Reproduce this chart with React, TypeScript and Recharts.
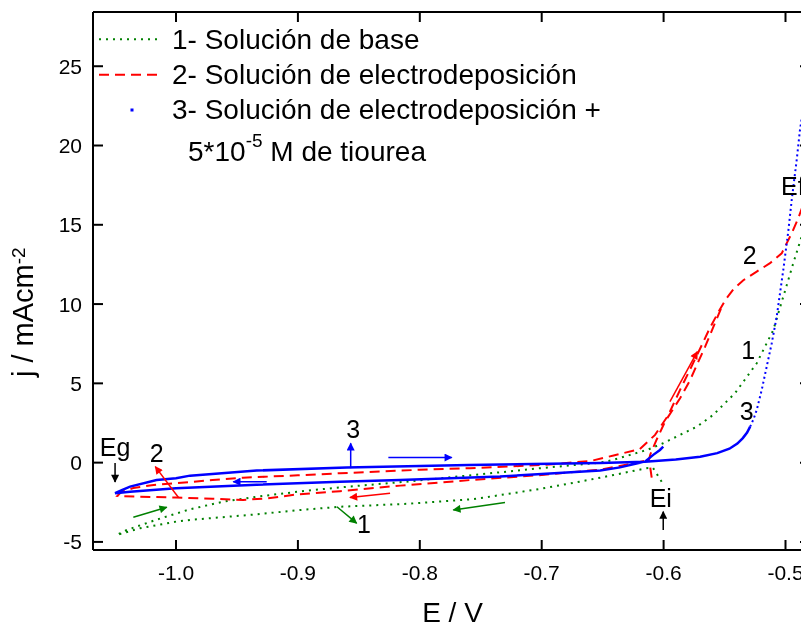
import React from 'react';
import { LineChart, Line, XAxis, YAxis, ReferenceLine, ReferenceDot } from 'recharts';

// Cyclic voltammograms, E / V vs j / mAcm-2
const E_TICKS = [-1.0, -0.9, -0.8, -0.7, -0.6, -0.5];
const J_TICKS = [-5, 0, 5, 10, 15, 20, 25];
const E_DOMAIN = [-1.0681, -0.4799];
const J_DOMAIN = [-5.51, 28.42];

// 1- Solución de base (green, dotted)
const base = [
  [-0.6016, -1.2], [-0.6087, -0.33], [-0.614, -0.35], [-0.641, -0.78], [-0.652, -0.95],
  [-0.669, -1.2], [-0.701, -1.65], [-0.73, -2.0], [-0.756, -2.3], [-0.811, -2.6],
  [-0.865, -2.78], [-0.9, -3.0], [-0.934, -3.26], [-0.9885, -3.61], [-1.0, -3.72],
  [-1.0295, -4.14], [-1.0486, -4.56], [-1.0405, -4.25], [-1.016, -3.6], [-0.9885, -2.94],
  [-0.961, -2.46], [-0.934, -2.15], [-0.893, -1.77], [-0.858, -1.51], [-0.811, -1.2],
  [-0.756, -0.78], [-0.701, -0.35], [-0.652, 0.0], [-0.6415, 0.17], [-0.6136, 0.8],
  [-0.6005, 1.22], [-0.5865, 1.75], [-0.5726, 2.27], [-0.5595, 3.0], [-0.5414, 4.38],
  [-0.5236, 6.27], [-0.51, 8.37], [-0.5018, 10.47], [-0.4936, 12.58], [-0.487, 14.2],
  [-0.478, 16.5],
];

// 2- Solución de electrodeposición (red, dashed)
const depo = [
  [-0.616, 0.1], [-0.625, -0.05], [-0.652, -0.44], [-0.7, -0.78], [-0.7588, -1.1],
  [-0.816, -1.45], [-0.8655, -1.8], [-0.9, -2.0], [-0.925, -2.25], [-0.945, -2.35],
  [-0.97, -2.28], [-1.0, -2.2], [-1.03, -2.15], [-1.048, -2.1], [-1.045, -1.85],
  [-1.035, -1.6], [-1.02, -1.42], [-1.0, -1.3], [-0.97, -1.1], [-0.945, -0.95],
  [-0.9, -0.8], [-0.8655, -0.67], [-0.8, -0.45], [-0.7588, -0.35], [-0.7, -0.15],
  [-0.66, 0.1], [-0.641, 0.45], [-0.6195, 0.85], [-0.607, 1.75], [-0.5961, 3.0],
  [-0.5865, 4.59], [-0.5775, 6.0], [-0.57, 7.2], [-0.562, 8.5], [-0.555, 9.5],
  [-0.549, 10.3], [-0.5425, 10.95], [-0.5346, 11.5], [-0.5236, 12.05], [-0.5127, 12.58],
  [-0.5031, 13.2], [-0.4949, 14.47], [-0.4895, 15.42], [-0.483, 16.8], [-0.475, 18.5],
];
const depoBack = [
  [-0.553, 9.7], [-0.5595, 8.5], [-0.566, 7.3], [-0.5725, 6.2], [-0.5783, 5.2],
  [-0.5865, 4.06], [-0.5988, 2.59], [-0.606, 1.4], [-0.611, 0.5], [-0.6125, 0.0],
  [-0.611, -0.29], [-0.6095, -1.09],
];

// 3- Solución de electrodeposición + tiourea (blue)
const thio = [
  [-0.6003, 1.01], [-0.603, 0.8], [-0.6085, 0.49], [-0.6153, 0.06], [-0.6358, -0.3],
  [-0.652, -0.5], [-0.7, -0.72], [-0.7342, -0.88], [-0.8162, -1.09], [-0.8655, -1.2],
  [-0.934, -1.4], [-1.0, -1.62], [-1.0377, -1.83], [-1.05, -1.93], [-1.044, -1.72],
  [-1.0377, -1.51], [-1.0159, -1.09], [-1.0, -0.98], [-0.9885, -0.82], [-0.9338, -0.5],
  [-0.86, -0.3], [-0.76, -0.15], [-0.652, -0.02], [-0.6153, 0.06], [-0.59, 0.2],
  [-0.57, 0.37], [-0.556, 0.6], [-0.546, 0.88], [-0.5395, 1.2], [-0.535, 1.55],
  [-0.5315, 1.9], [-0.529, 2.27],
];
const thioSteep = [
  [-0.529, 2.27], [-0.5262, 2.75], [-0.5236, 3.32], [-0.5195, 4.59], [-0.5154, 6.06],
  [-0.5113, 7.53], [-0.5072, 9.21], [-0.5045, 10.69], [-0.5018, 12.16], [-0.5004, 13.0],
  [-0.4977, 14.6], [-0.4949, 16.57], [-0.4908, 19.1], [-0.4881, 21.0], [-0.4855, 22.3],
  [-0.482, 24.0],
];

const LABELS = [
  { text: 'Eg', E: -1.05, j: 0.99 },
  { text: '2', E: -1.0158, j: 0.61 },
  { text: '3', E: -0.8546, j: 2.15 },
  { text: '1', E: -0.8458, j: -3.87 },
  { text: 'Ei', E: -0.6023, j: -2.2 },
  { text: 'Ef', E: -0.494, j: 17.45 },
  { text: '2', E: -0.5294, j: 13.1 },
  { text: '1', E: -0.5305, j: 7.11 },
  { text: '3', E: -0.5318, j: 3.27 },
];

const GREEN = '#008000';
const RED = '#ff0000';
const BLUE = '#0000ff';

const ARROWS = [
  { from: [-1.05, -0.02], to: [-1.05, -1.22], color: '#000000' },
  { from: [-0.998, -2.2], to: [-1.017, -0.25], color: RED },
  { from: [-1.035, -3.44], to: [-1.0076, -2.81], color: GREEN },
  { from: [-0.9256, -1.2], to: [-0.953, -1.2], color: BLUE },
  { from: [-0.8567, -0.35], to: [-0.8567, 1.22], color: BLUE },
  { from: [-0.8258, 0.32], to: [-0.7738, 0.32], color: BLUE },
  { from: [-0.8244, -1.93], to: [-0.8573, -2.2], color: RED },
  { from: [-0.868, -2.78], to: [-0.8518, -3.82], color: GREEN },
  { from: [-0.7301, -2.52], to: [-0.7725, -2.98], color: GREEN },
  { from: [-0.6003, -4.25], to: [-0.6003, -3.09], color: '#000000' },
  { from: [-0.5948, 3.85], to: [-0.5723, 7.0], color: RED },
];

const FONT = '"Liberation Sans", Arial, Helvetica, sans-serif';
const toPts = (rows: number[][]) => rows.map(([E, j]) => ({ E, j }));
const markerId = (c: string) => 'ah' + c.replace('#', '');

export default function App() {
  const colors = [GREEN, RED, BLUE, '#000000'];
  return (
    <div style={{ position: 'fixed', left: 8, top: 8, width: 793, height: 616, overflow: 'hidden', fontFamily: FONT }}>
      <LineChart width={803} height={616} margin={{ top: 3, right: 0, bottom: 0, left: 0 }}>
        <XAxis
          dataKey="E" type="number" domain={E_DOMAIN} allowDataOverflow ticks={E_TICKS} interval={0}
          tickFormatter={(v: number) => v.toFixed(1)} tickSize={-10} tickMargin={25} height={74}
          axisLine={{ stroke: '#000', strokeWidth: 2 }} tickLine={{ stroke: '#000', strokeWidth: 2 }}
          tick={{ fill: '#000', fontSize: 21, fontFamily: FONT }}
          label={{ content: () => (
            <text x={444.5} y={614} textAnchor="middle" fontSize={28} fontFamily={FONT} fill="#000">E / V</text>
          ) }}
        />
        <XAxis
          xAxisId="top" orientation="top" dataKey="E" type="number" domain={E_DOMAIN} allowDataOverflow
          ticks={E_TICKS} interval={0} tickFormatter={() => ''} tickSize={-10} height={1}
          axisLine={{ stroke: '#000', strokeWidth: 2 }} tickLine={{ stroke: '#000', strokeWidth: 2 }}
        />
        <YAxis
          type="number" domain={J_DOMAIN} allowDataOverflow ticks={J_TICKS} interval={0}
          tickSize={-10} tickMargin={21} width={85}
          axisLine={{ stroke: '#000', strokeWidth: 2 }} tickLine={{ stroke: '#000', strokeWidth: 2 }}
          tick={{ fill: '#000', fontSize: 21, fontFamily: FONT }}
          label={{ content: () => (
            <text x={25} y={369} transform="rotate(-90, 25, 369)" fontSize={29} fontFamily={FONT} fill="#000">
              j / mAcm<tspan dy={-8} fontSize={19}>-2</tspan>
            </text>
          ) }}
        />
        <YAxis
          yAxisId="right" orientation="right" type="number" domain={J_DOMAIN} allowDataOverflow
          ticks={J_TICKS} interval={0} tickFormatter={() => ''} tickSize={-10} width={1}
          axisLine={{ stroke: '#000', strokeWidth: 2 }} tickLine={{ stroke: '#000', strokeWidth: 2 }}
        />

        <Line data={toPts(base)} dataKey="j" type="linear" stroke={GREEN} strokeWidth={2}
          strokeDasharray="2 5" dot={false} isAnimationActive={false} />
        <Line data={toPts(depo)} dataKey="j" type="linear" stroke={RED} strokeWidth={2}
          strokeDasharray="10 6" dot={false} isAnimationActive={false} />
        <Line data={toPts(depoBack)} dataKey="j" type="linear" stroke={RED} strokeWidth={2}
          strokeDasharray="10 6" dot={false} isAnimationActive={false} />
        <Line data={toPts(thio)} dataKey="j" type="linear" stroke={BLUE} strokeWidth={2.5}
          dot={false} isAnimationActive={false} />
        <Line data={toPts(thioSteep)} dataKey="j" type="linear" stroke={BLUE} strokeWidth={2}
          strokeDasharray="2 3" dot={false} isAnimationActive={false} />

        {ARROWS.map((a, i) => (
          <ReferenceLine
            key={`arrow-${i}`}
            segment={[{ x: a.from[0], y: a.from[1] }, { x: a.to[0], y: a.to[1] }]}
            shape={(p: any) => (
              <line x1={p.x1} y1={p.y1} x2={p.x2} y2={p.y2} stroke={a.color} strokeWidth={1.5}
                markerEnd={`url(#${markerId(a.color)})`} />
            )}
          />
        ))}
        {LABELS.map((l, i) => (
          <ReferenceDot
            key={`label-${i}`} x={l.E} y={l.j} r={0}
            shape={(p: any) => (
              <text x={p.cx} y={p.cy} textAnchor="middle" dominantBaseline="central"
                fontSize={25} fontFamily={FONT} fill="#000">{l.text}</text>
            )}
          />
        ))}
      </LineChart>

      {/* legend + arrow markers */}
      <svg width={793} height={616} style={{ position: 'absolute', left: 0, top: 0, pointerEvents: 'none' }}>
        <defs>
          {colors.map(c => (
            <marker key={c} id={markerId(c)} viewBox="0 0 10 10" refX={9} refY={5}
              markerWidth={11} markerHeight={8} markerUnits="userSpaceOnUse" orient="auto">
              <path d="M0,0 L10,5 L0,10 z" fill={c} />
            </marker>
          ))}
        </defs>
        <g fontFamily={FONT} fontSize={28} fill="#000">
          <line x1={91} y1={31.3} x2={150} y2={31.3} stroke={GREEN} strokeWidth={2} strokeDasharray="2 5" />
          <text x={164} y={41.3}>1- Solución de base</text>
          <line x1={91} y1={66.7} x2={150} y2={66.7} stroke={RED} strokeWidth={2} strokeDasharray="10 6" />
          <text x={164} y={76}>2- Solución de electrodeposición</text>
          <rect x={122.5} y={100.5} width={3} height={3} fill={BLUE} />
          <text x={164} y={111.3}>3- Solución de electrodeposición +</text>
          <text x={180} y={152.7}>
            5*10<tspan dy={-14} fontSize={19}>-5</tspan><tspan dy={14}> M de tiourea</tspan>
          </text>
        </g>
      </svg>
    </div>
  );
}
